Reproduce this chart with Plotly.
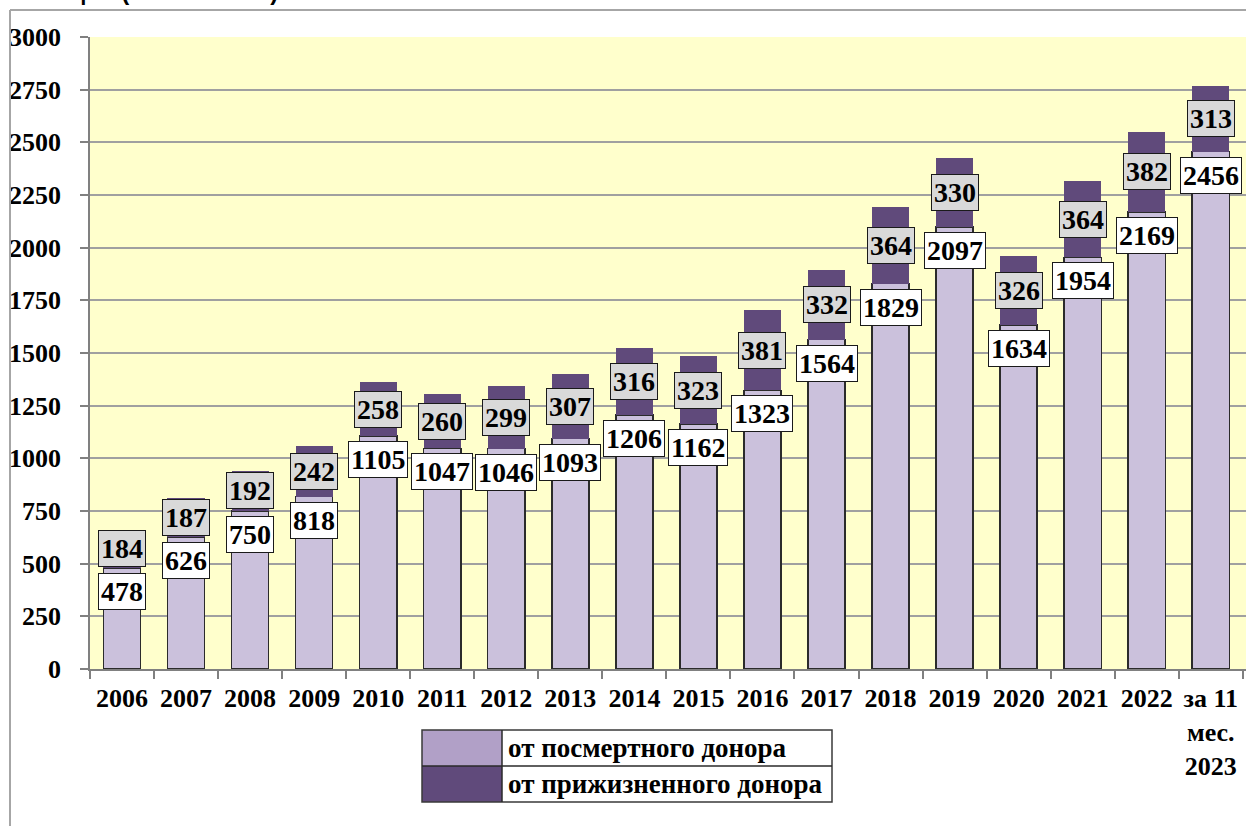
import plotly.graph_objects as go

categories = ["2006", "2007", "2008", "2009", "2010", "2011", "2012", "2013", "2014",
              "2015", "2016", "2017", "2018", "2019", "2020", "2021", "2022", "за 11<br>мес.<br>2023"]
posthumous = [478, 626, 750, 818, 1105, 1047, 1046, 1093, 1206, 1162, 1323, 1564, 1829, 2097, 1634, 1954, 2169, 2456]
living = [184, 187, 192, 242, 258, 260, 299, 307, 316, 323, 381, 332, 364, 330, 326, 364, 382, 313]
y_ticks = [0, 250, 500, 750, 1000, 1250, 1500, 1750, 2000, 2250, 2500, 2750, 3000]

LIGHT = "#cbc1dc"
DARK = "#604a7b"
LEG_LIGHT = "#b1a0c7"
SERIF = "Liberation Serif, Times New Roman, serif"

W, H = 1246, 826
L, R, T, B = 90, 0, 37, 157

fig = go.Figure()
fig.add_trace(go.Bar(x=categories, y=posthumous, name="от посмертного донора",
                     marker=dict(color=LIGHT, line=dict(color="#2b2b2b", width=1.5)),
                     width=0.58, showlegend=False, hoverinfo="skip"))
fig.add_trace(go.Bar(x=categories, y=living, name="от прижизненного донора",
                     marker=dict(color=DARK, line=dict(width=0)),
                     width=0.58, showlegend=False, hoverinfo="skip"))

annotations = []
for i, (p, l) in enumerate(zip(posthumous, living)):
    annotations.append(dict(x=i, y=p, xref="x", yref="y", text=str(p), showarrow=False,
                            yanchor="top", yshift=-5,
                            font=dict(family=SERIF, size=28, color="black", weight="bold"),
                            bgcolor="white", bordercolor="#1a1a1a", borderwidth=1, borderpad=2))
    annotations.append(dict(x=i, y=p + l / 2, xref="x", yref="y", text=str(l), showarrow=False,
                            yanchor="middle",
                            font=dict(family=SERIF, size=28, color="black", weight="bold"),
                            bgcolor="#d9d9d9", bordercolor="#1a1a1a", borderwidth=1, borderpad=2))

pw, ph = W - L - R, H - T - B


def px_x(x):
    return (x - L) / pw


def px_y(y):
    return (H - B - y) / ph


# cut-off title fragment at the very top
annotations.append(dict(x=px_x(287), y=px_y(7), xref="paper", yref="paper",
                        text="трансплантации (2022 г. – 226).", showarrow=False,
                        xanchor="right", yanchor="bottom",
                        font=dict(family="Liberation Sans, Arial, sans-serif", size=24,
                                  color="black", weight="bold")))

# custom legend
leg_items = [("от посмертного донора", LEG_LIGHT), ("от прижизненного донора", DARK)]
lx0, lx1, lx2 = 422, 502, 832
ly = [730, 766, 802]
shapes = []
for i, (name, col) in enumerate(leg_items):
    shapes.append(dict(type="rect", xref="paper", yref="paper",
                       x0=px_x(lx0), x1=px_x(lx1), y0=px_y(ly[i + 1]), y1=px_y(ly[i]),
                       fillcolor=col, line=dict(width=0)))
    annotations.append(dict(x=px_x(lx1 + 4), y=px_y((ly[i] + ly[i + 1]) / 2), xref="paper", yref="paper",
                            text=name, showarrow=False, xanchor="left", yanchor="middle",
                            font=dict(family=SERIF, size=27, color="black", weight="bold")))
shapes.append(dict(type="rect", xref="paper", yref="paper",
                   x0=px_x(lx0), x1=px_x(lx2), y0=px_y(ly[2]), y1=px_y(ly[0]),
                   fillcolor="rgba(0,0,0,0)", line=dict(color="#3a3a3a", width=1.5)))
shapes.append(dict(type="line", xref="paper", yref="paper",
                   x0=px_x(lx0), x1=px_x(lx2), y0=px_y(ly[1]), y1=px_y(ly[1]),
                   line=dict(color="#2a2a2a", width=1.5)))
shapes.append(dict(type="line", xref="paper", yref="paper",
                   x0=px_x(lx1), x1=px_x(lx1), y0=px_y(ly[2]), y1=px_y(ly[0]),
                   line=dict(color="#2a2a2a", width=1.5)))

# outer chart frame (top and left edges visible)
shapes.append(dict(type="line", xref="paper", yref="paper",
                   x0=px_x(10), x1=px_x(W + 5), y0=px_y(10), y1=px_y(10),
                   line=dict(color="#a6a6a6", width=2)))
shapes.append(dict(type="line", xref="paper", yref="paper",
                   x0=px_x(10), x1=px_x(10), y0=px_y(10), y1=px_y(H + 5),
                   line=dict(color="#a6a6a6", width=2)))

fig.update_layout(
    width=W, height=H,
    margin=dict(l=L, r=R, t=T, b=B, pad=0, autoexpand=False),
    barmode="stack",
    paper_bgcolor="white",
    plot_bgcolor="#ffffcc",
    annotations=annotations,
    shapes=shapes,
    xaxis=dict(type="category", range=[-0.5, 17.55], showgrid=False, showline=True,
               linecolor="#808080", linewidth=1.5, tickangle=0, automargin=False,
               ticks="outside", tickson="boundaries", ticklen=8, tickcolor="#808080", tickwidth=1.5,
               tickfont=dict(family=SERIF, size=26, color="black", weight="bold"),
               ticklabelstandoff=5, fixedrange=True),
    yaxis=dict(range=[0, 3000], tickvals=y_ticks, showgrid=True, gridcolor="#a0a0a0", gridwidth=1.5,
               showline=True, linecolor="#808080", linewidth=1.5, zeroline=False, automargin=False,
               ticks="outside", ticklen=8, tickcolor="#808080", tickwidth=1.5,
               tickfont=dict(family=SERIF, size=26, color="black", weight="bold"),
               ticklabelstandoff=14, fixedrange=True),
    font=dict(family=SERIF),
)

fig.write_html("out.html", config={"displayModeBar": False},
               post_script="document.body.style.margin='0';document.body.style.overflow='hidden';")
